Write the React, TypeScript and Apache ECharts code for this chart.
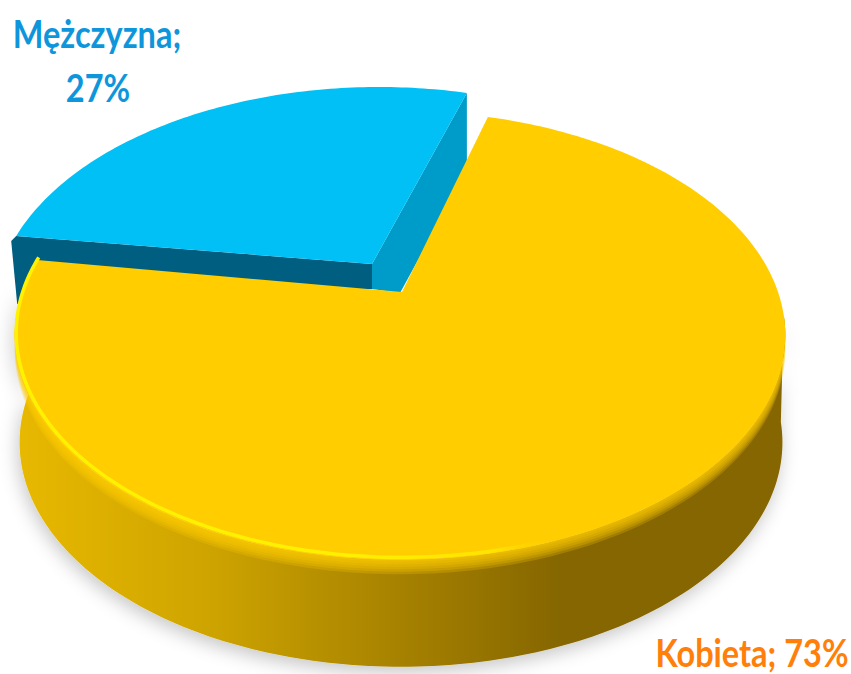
import React, { useEffect, useRef } from "react";
import * as echarts from "echarts";

const categories = ["Mężczyzna", "Kobieta"];
const values = [27, 73];
const sliceColors = ["#00C0F5", "#FFCD00"];
const labelColors = ["#0E96DC", "#FF7F0A"];

// perspective of the tilted disc
const APEX_X = 402;
const APEX_Y = 292;
const RIM_X = 400;
const RX = 378;
const RY = 216;
const K = 0.1935;
const START_KOBIETA = 16; // degrees, clockwise from the back of the disc
const DEPTH = 107;
const LABEL_FONT = "bold 32.5px Lato";
const LABEL_SCALE_Y = 1.2;
const BEVEL_STEPS = [14.5, 12, 9.5, 7, 4.5, 2];

const rad = (d: number) => (d * Math.PI) / 180;

function rimPoint(deg: number, dx = 0, dy = 0, scale = 1): number[] {
  const s = Math.sin(rad(deg));
  const c = Math.cos(rad(deg));
  const w = 1 + K * c;
  return [RIM_X + dx + (scale * RX * s) / w, APEX_Y + dy - (RY * c) / w];
}

function arc(from: number, to: number, dx = 0, dy = 0, scale = 1): number[][] {
  const n = Math.max(2, Math.ceil(Math.abs(to - from)));
  const pts: number[][] = [];
  for (let i = 0; i <= n; i++) pts.push(rimPoint(from + ((to - from) * i) / n, dx, dy, scale));
  return pts;
}

const total = values.reduce((a, b) => a + b, 0);

function hGrad(stops: [number, string][]) {
  return new echarts.graphic.LinearGradient(
    0,
    0,
    1,
    0,
    stops.map(([offset, color]) => ({ offset, color }))
  );
}

function label(text: string, x: number, y: number, fill: string) {
  return {
    type: "text",
    x,
    y,
    scaleY: LABEL_SCALE_Y,
    style: { text, font: LABEL_FONT, fill, textAlign: "center", textVerticalAlign: "bottom" },
  };
}

function renderItem(params: any, api: any) {
  const i = params.dataIndex;
  const sweep = (api.value(0) / total) * 360;
  const children: any[] = [];

  if (i === 0) {
    const from = START_KOBIETA - sweep;
    const to = START_KOBIETA;
    const apex = [APEX_X - 30, APEX_Y - 28];
    const top = arc(from, to, -21, -24, 1);
    const left = top[0];
    const right = top[top.length - 1];
    children.push({
      type: "polygon",
      shape: {
        points: [left, apex, [apex[0], apex[1] + 25], [left[0] + 1, left[1] + 68], [left[0] - 5, left[1] + 5]],
      },
      style: { fill: "#005E80" },
    });
    children.push({
      type: "polygon",
      shape: {
        points: [right, apex, [apex[0], apex[1] + 25], [APEX_X - 2, APEX_Y + 1], [right[0], right[1] + 78]],
      },
      style: { fill: "#009CC9" },
    });
    children.push({
      type: "polygon",
      shape: { points: [apex, ...top] },
      style: { fill: sliceColors[0] },
    });
    children.push(label(`${categories[0]};`, 97, 53, labelColors[0]));
    children.push(label(`${api.value(0)}%`, 98, 107, labelColors[0]));
  } else {
    const from = START_KOBIETA;
    const to = START_KOBIETA + sweep;
    const upper = arc(96, 272);
    children.push({
      type: "polygon",
      shape: { points: [...upper, ...arc(272, 96, 1, DEPTH, 0.99)] },
      style: {
        fill: hGrad([
          [0, "#E8B900"],
          [0.26, "#CDA300"],
          [0.54, "#A07C00"],
          [0.71, "#856600"],
          [1, "#856600"],
        ]),
        shadowBlur: 18,
        shadowOffsetX: -2,
        shadowOffsetY: 6,
        shadowColor: "rgba(0,0,0,0.22)",
      },
    });
    BEVEL_STEPS.forEach((dy) => {
      children.push({
        type: "polygon",
        shape: { points: [...upper, ...arc(272, 96, 0, dy)] },
        style: { fill: "rgba(255,204,0,0.24)" },
      });
    });
    children.push({
      type: "polygon",
      shape: { points: [[APEX_X, APEX_Y], ...arc(from, to)] },
      style: { fill: sliceColors[1] },
    });
    children.push({
      type: "polyline",
      shape: { points: arc(160, to, 1.5, -2.5) },
      style: {
        fill: "none",
        lineWidth: 3.5,
        stroke: hGrad([
          [0, "#FFF200"],
          [0.6, "#FFF000"],
          [0.88, "#FFE400"],
          [1, "rgba(255,205,0,0)"],
        ]),
      },
    });
    children.push(label(`${categories[1]}; ${api.value(0)}%`, 752, 672, labelColors[1]));
  }
  return { type: "group", children };
}

export default function App() {
  const ref = useRef<HTMLDivElement>(null);
  useEffect(() => {
    document.body.style.margin = "0";
    const chart = echarts.init(ref.current!, undefined, { renderer: "svg" });
    chart.setOption({
      animation: false,
      backgroundColor: "#ffffff",
      series: [
        {
          type: "custom",
          coordinateSystem: "none",
          renderItem,
          data: values.map((v, idx) => ({ name: categories[idx], value: [v] })),
          silent: true,
        },
      ],
    });
    return () => chart.dispose();
  }, []);
  return <div ref={ref} style={{ width: 851, height: 674 }} />;
}
